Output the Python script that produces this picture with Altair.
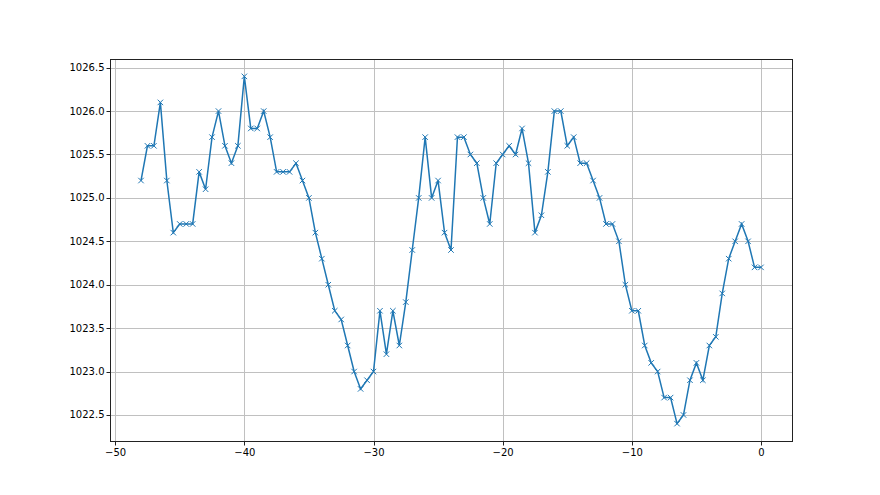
import altair as alt
import pandas as pd

x_vals = [i * 0.5 - 48 for i in range(97)]
pressure = [
    1025.2, 1025.6, 1025.6, 1026.1, 1025.2, 1024.6, 1024.7, 1024.7, 1024.7, 1025.3,
    1025.1, 1025.7, 1026.0, 1025.6, 1025.4, 1025.6, 1026.4, 1025.8, 1025.8, 1026.0,
    1025.7, 1025.3, 1025.3, 1025.3, 1025.4, 1025.2, 1025.0, 1024.6, 1024.3, 1024.0,
    1023.7, 1023.6, 1023.3, 1023.0, 1022.8, 1022.9, 1023.0, 1023.7, 1023.2, 1023.7,
    1023.3, 1023.8, 1024.4, 1025.0, 1025.7, 1025.0, 1025.2, 1024.6, 1024.4, 1025.7,
    1025.7, 1025.5, 1025.4, 1025.0, 1024.7, 1025.4, 1025.5, 1025.6, 1025.5, 1025.8,
    1025.4, 1024.6, 1024.8, 1025.3, 1026.0, 1026.0, 1025.6, 1025.7, 1025.4, 1025.4,
    1025.2, 1025.0, 1024.7, 1024.7, 1024.5, 1024.0, 1023.7, 1023.7, 1023.3, 1023.1,
    1023.0, 1022.7, 1022.7, 1022.4, 1022.5, 1022.9, 1023.1, 1022.9, 1023.3, 1023.4,
    1023.9, 1024.3, 1024.5, 1024.7, 1024.5, 1024.2, 1024.2,
]
x_ticks = [-50, -40, -30, -20, -10, 0]
y_ticks = [1022.5, 1023.0, 1023.5, 1024.0, 1024.5, 1025.0, 1025.5, 1026.0, 1026.5]

df = pd.DataFrame({"x": x_vals, "p": pressure})

xs = alt.Scale(domain=[-50.4, 2.4], nice=False, zero=False)
ys = alt.Scale(domain=[1022.2, 1026.6], nice=False, zero=False)

axis_common = dict(
    grid=True, gridColor="#c0c0c0", gridWidth=1,
    tickColor="#222222", tickSize=4, domainColor="#222222",
    labelFont="DejaVu Sans", labelFontSize=10, labelColor="black",
    title=None,
)

base = alt.Chart(df).encode(
    x=alt.X("x:Q", scale=xs, axis=alt.Axis(values=x_ticks, format="d", labelPadding=2, **axis_common)),
    y=alt.Y("p:Q", scale=ys, axis=alt.Axis(values=y_ticks, format=".1f", labelPadding=2, **axis_common)),
)

frame = alt.Chart(df).mark_rect(fill=None, stroke="#222222", strokeWidth=1).encode(
    x=alt.value(0.5), x2=alt.value(682.5), y=alt.value(0.5), y2=alt.value(382.5)
)

line = base.mark_line(color="#1f77b4", strokeWidth=1.5)
pts = base.mark_point(
    shape="M-1,-1L1,1M-1,1L1,-1", size=30, filled=False,
    color="#1f77b4", strokeWidth=1, opacity=1,
)

chart = (line + pts + frame).properties(
    width=682, height=382,
    autosize=alt.AutoSizeParams(type="none"),
    padding={"left": 102, "top": 51, "right": 40, "bottom": 40},
).configure_view(strokeWidth=0).configure(background="white")

chart.save("out.html", embed_options={"renderer": "svg", "actions": False})
